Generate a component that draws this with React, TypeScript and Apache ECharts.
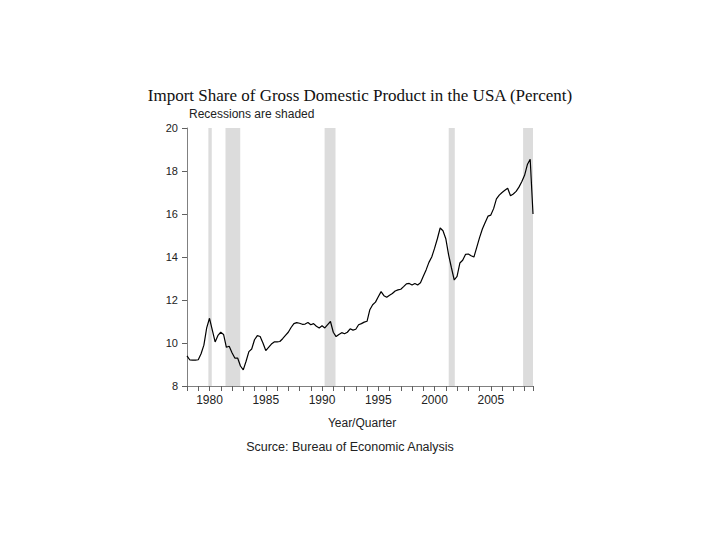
import React, { useEffect, useRef } from "react";
import * as echarts from "echarts";

const START_YEAR = 1978;
// Quarterly import share of GDP (%), 1978Q1 .. 2008Q4
const importShare: number[] = [
  9.4, 9.21, 9.2, 9.2,
  9.22, 9.5, 9.9, 10.7,
  11.15, 10.6, 10.05, 10.35,
  10.5, 10.4, 9.8, 9.85,
  9.55, 9.3, 9.3, 8.93,
  8.75, 9.15, 9.6, 9.72,
  10.15, 10.34, 10.3, 10.0,
  9.65, 9.8, 9.95, 10.05,
  10.05, 10.07, 10.2, 10.35,
  10.5, 10.72, 10.9, 10.95,
  10.92, 10.87, 10.88, 10.95,
  10.85, 10.9, 10.78, 10.7,
  10.8, 10.7, 10.85, 11.0,
  10.5, 10.3, 10.4, 10.48,
  10.43, 10.5, 10.66, 10.6,
  10.64, 10.85, 10.9, 10.97,
  11.01, 11.55, 11.78, 11.9,
  12.15, 12.39, 12.2, 12.13,
  12.22, 12.3, 12.42, 12.47,
  12.5, 12.62, 12.75, 12.77,
  12.7, 12.77, 12.7, 12.8,
  13.1, 13.4, 13.75, 14.0,
  14.4, 14.85, 15.35, 15.22,
  14.85, 14.1, 13.5, 12.93,
  13.1, 13.72, 13.85, 14.12,
  14.14, 14.06, 14.0, 14.45,
  14.9, 15.3, 15.6, 15.9,
  15.95, 16.25, 16.7, 16.88,
  17.0, 17.1, 17.2, 16.85,
  16.93, 17.05, 17.25, 17.5,
  17.8, 18.3, 18.55, 16.0,
];

// Recession periods (start, end) in fractional years
const recessionStarts: number[] = [1979.9, 1981.42, 1990.23, 2001.26, 2007.87];
const recessionEnds: number[] = [1980.2, 1982.73, 1991.2, 2001.8, 2008.75];

const yTicks: number[] = [8, 10, 12, 14, 16, 18, 20];
const labelEvery = 5;

const titleText = "Import Share of Gross Domestic Product in the USA (Percent)";
const subtitleText = "Recessions are shaded";
const xAxisTitle = "Year/Quarter";
const sourceText = "Scurce: Bureau of Economic Analysis";

export default function App() {
  const ref = useRef<HTMLDivElement>(null);

  useEffect(() => {
    if (!ref.current) return;
    const chart = echarts.init(ref.current, null, { renderer: "svg" });

    const seriesData = importShare.map((v, i) => [START_YEAR + i / 4, v]);
    const xMax = START_YEAR + (importShare.length - 1) / 4;
    const areas = recessionStarts.map((s, i) => [
      { xAxis: s },
      { xAxis: recessionEnds[i] },
    ]);

    chart.setOption({
      animation: false,
      backgroundColor: "#ffffff",
      title: {
        text: titleText,
        left: "center",
        top: 82,
        textStyle: {
          fontFamily: "Liberation Serif",
          fontWeight: "normal",
          fontSize: 17,
          color: "#111111",
        },
      },
      graphic: [
        {
          type: "text",
          left: 189,
          top: 108,
          style: {
            text: subtitleText,
            font: "12px 'Liberation Sans'",
            fill: "#222222",
          },
        },
        {
          type: "text",
          x: 362,
          y: 423,
          style: {
            text: xAxisTitle,
            font: "12px 'Liberation Sans'",
            fill: "#222222",
            align: "center",
            verticalAlign: "middle",
          },
        },
        {
          type: "text",
          x: 350,
          y: 447,
          style: {
            text: sourceText,
            font: "12.5px 'Liberation Sans'",
            fill: "#222222",
            align: "center",
            verticalAlign: "middle",
          },
        },
      ],
      grid: {
        left: 187,
        right: 187,
        top: 128,
        bottom: 154,
        containLabel: false,
      },
      xAxis: {
        type: "value",
        min: START_YEAR,
        max: xMax,
        interval: 1,
        axisLine: { onZero: false, lineStyle: { color: "#808080", width: 1 } },
        axisTick: { show: true, inside: false, length: 5, lineStyle: { color: "#606060" } },
        axisLabel: {
          color: "#222222",
          fontSize: 12,
          fontFamily: "Liberation Sans",
          margin: 8,
          formatter: (v: number) => (Number.isInteger(v) && v % labelEvery === 0 ? String(v) : ""),
        },
        splitLine: { show: false },
      },
      yAxis: {
        type: "value",
        min: yTicks[0],
        max: yTicks[yTicks.length - 1],
        interval: yTicks[1] - yTicks[0],
        axisLine: { show: true, onZero: false, lineStyle: { color: "#808080", width: 1 } },
        axisTick: { show: true, inside: false, length: 5, lineStyle: { color: "#606060" } },
        axisLabel: {
          color: "#222222",
          fontSize: 11,
          fontFamily: "Liberation Sans",
          margin: 9,
        },
        splitLine: { show: false },
      },
      series: [
        {
          type: "line",
          data: seriesData,
          showSymbol: false,
          symbol: "none",
          lineStyle: { color: "#000000", width: 1.2 },
          z: 3,
          markArea: {
            silent: true,
            itemStyle: { color: "#dcdcdc" },
            data: areas,
          },
        },
      ],
    });

    return () => chart.dispose();
  }, []);

  return (
    <div
      ref={ref}
      style={{ position: "fixed", left: 0, top: 0, width: 720, height: 540 }}
    />
  );
}
